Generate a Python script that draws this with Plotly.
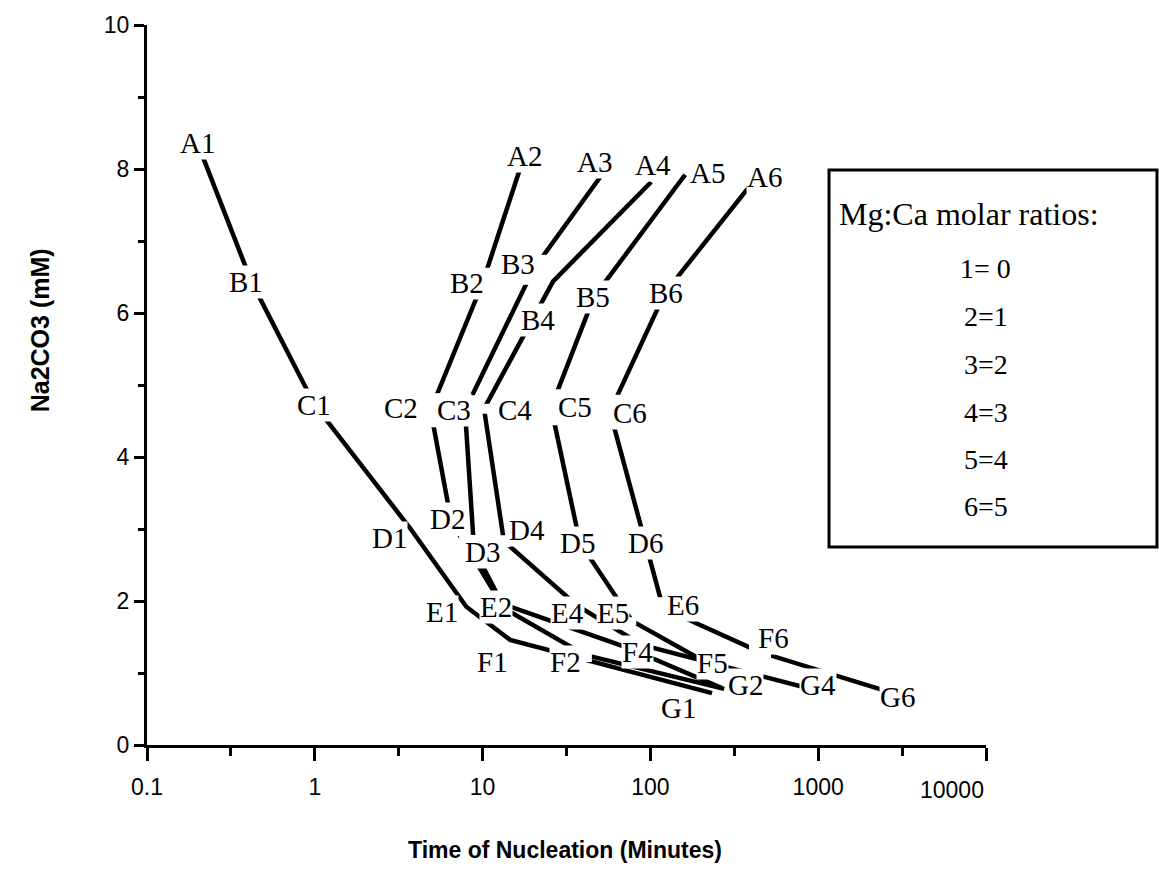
import math
import plotly.graph_objects as go

# Nucleation time (minutes) and Na2CO3 concentration (mM) for each Mg:Ca series
labels_1 = ["A1", "B1", "C1", "D1", "E1", "F1", "G1"]
time_1 = [0.2, 0.42, 1.0, 3.7, 8.0, 14.6, 233]
na2co3_1 = [8.36, 6.43, 4.72, 3.01, 1.92, 1.46, 0.72]

labels_2 = ["A2", "B2", "C2", "D2", "E2", "F2", "G2"]
time_2 = [17.7, 10.0, 4.9, 6.5, 13.4, 40.7, 275]
na2co3_2 = [8.18, 6.42, 4.65, 3.11, 1.90, 1.25, 0.78]

labels_3 = ["A3", "B3", "C3", "D3", "", "", ""]
time_3 = [54, 20, 7.85, 8.9, 13.1, 73.5, 267]
na2co3_3 = [7.99, 6.60, 4.65, 2.71, 1.96, 1.35, 0.79]

labels_4 = ["A4", "B4", "C4", "D4", "E4", "F4", "G4"]
time_4 = [101, 26.3, 10.2, 13.4, 36.5, 89, 970]
na2co3_4 = [7.82, 6.44, 4.67, 2.83, 1.94, 1.39, 0.76]

labels_5 = ["A5", "B5", "C5", "D5", "E5", "F5"]
time_5 = [161, 46, 25.6, 38, 78, 206]
na2co3_5 = [7.92, 6.22, 4.69, 2.81, 1.72, 1.17]

labels_6 = ["A6", "B6", "C6", "D6", "E6", "F6", "G6"]
time_6 = [432, 122, 57.4, 93, 119, 450, 2790]
na2co3_6 = [7.89, 6.28, 4.63, 2.81, 1.90, 1.29, 0.72]

legend_title = "Mg:Ca molar ratios:"
legend_entries = ["1= 0", "2=1", "3=2", "4=3", "5=4", "6=5"]

x_tickvals = [0.1, 1, 10, 100, 1000, 10000]
x_ticktext = ["0.1", "1", "10", "100", "1000", ""]
x_minor_vals = [0.316, 3.16, 31.6, 316, 3162]

# label placement relative to its point, in pixels (right, down)
label_offset = {
    "A1": (0, 0), "B1": (-6, 0), "C1": (-1, 0), "D1": (-21, 10),
    "E1": (-24, 5), "F1": (-18, 22), "G1": (-34, 15),
    "A2": (0, 0), "B2": (-16, 0), "C2": (-30, -2), "D2": (-4, -2),
    "E2": (-8, -1), "F2": (-19, 7), "G2": (21, -4),
    "A3": (-11, -8), "B3": (-15, -6), "C3": (-11, 0), "D3": (8, 2),
    "A4": (2, -17), "B4": (-15, 39), "C4": (31, 1), "D4": (23, -11),
    "E4": (-9, 8), "F4": (-4, 7), "G4": (2, -5),
    "A5": (22, -2), "B5": (-1, 0), "C5": (24, 0), "D5": (-2, 0),
    "E5": (-19, -8), "F5": (9, 2),
    "A6": (7, 0), "B6": (1, 0), "C6": (20, 1), "D6": (0, 0),
    "E6": (20, -3), "F6": (13, -14), "G6": (5, 4),
}

# size of the blank gap left in the line around each point, in pixels
gap_size = {
    "B1": 30, "C1": 30,
    "B2": 30, "C2": 34, "D2": 30, "F2": 14,
    "B3": 30, "C3": 30, "D3": 30,
    "C4": 10, "D4": 12,
    "B5": 30, "C5": 36, "D5": 30, "E5": 8,
    "B6": 30, "C6": 34, "D6": 30, "E6": 22, "F6": 22,
}

series = [
    (labels_1, time_1, na2co3_1),
    (labels_2, time_2, na2co3_2),
    (labels_3, time_3, na2co3_3),
    (labels_4, time_4, na2co3_4),
    (labels_5, time_5, na2co3_5),
    (labels_6, time_6, na2co3_6),
]

SERIF = "Liberation Serif, Times New Roman, serif"
SANS = "Liberation Sans, Arial, Helvetica, sans-serif"

fig = go.Figure()

for labels, t, c in series:
    fig.add_trace(go.Scatter(
        x=t, y=c, mode="lines",
        line=dict(color="black", width=4.5),
        showlegend=False, hoverinfo="skip",
    ))

# white squares that open a small gap in the lines at each point
gx, gy, gs = [], [], []
for labels, t, c in series:
    for name, tx, cy in zip(labels, t, c):
        if gap_size.get(name, 0) > 0:
            gx.append(tx)
            gy.append(cy)
            gs.append(gap_size[name])
fig.add_trace(go.Scatter(
    x=gx, y=gy, mode="markers", opacity=1,
    marker=dict(symbol="square", size=gs, color="#ffffff", opacity=1,
                line=dict(width=0, color="#ffffff")),
    showlegend=False, hoverinfo="skip",
))

annotations = []
# point labels with white backing so they break the lines behind them
for labels, t, c in series:
    for name, tx, cy in zip(labels, t, c):
        if not name:
            continue
        dx, dy = label_offset.get(name, (0, 0))
        annotations.append(dict(
            x=math.log10(tx), y=cy, xref="x", yref="y",
            xanchor="center", yanchor="middle",
            text=name, showarrow=False,
            xshift=dx, yshift=-dy,
            font=dict(family=SERIF, size=29, color="black"),
            bgcolor="white", borderpad=0,
        ))

# legend box contents
annotations.append(dict(
    x=0.9795, y=0.7375, xref="paper", yref="paper",
    xanchor="center", yanchor="middle",
    text=legend_title, showarrow=False,
    font=dict(family=SERIF, size=32, color="black"),
))
entry_y = [0.6625, 0.5958, 0.5278, 0.4625, 0.3972, 0.3319]
for txt, yy in zip(legend_entries, entry_y):
    annotations.append(dict(
        x=0.9995, y=yy, xref="paper", yref="paper",
        xanchor="center", yanchor="middle",
        text=txt, showarrow=False,
        font=dict(family=SERIF, size=28, color="black"),
    ))

# axis titles
annotations.append(dict(
    x=0.498, y=-0.146, xref="paper", yref="paper",
    xanchor="center", yanchor="middle",
    text="<b>Time of Nucleation (Minutes)</b>", showarrow=False,
    font=dict(family=SANS, size=23, color="black"),
))
annotations.append(dict(
    x=-0.1275, y=0.576, xref="paper", yref="paper",
    xanchor="center", yanchor="middle",
    text="<b>Na2CO3 (mM)</b>", showarrow=False, textangle=-90,
    font=dict(family=SANS, size=25, color="black"),
))
# last decade label sits left of its tick
annotations.append(dict(
    x=math.log10(x_tickvals[-1]), y=-0.0625, xref="x", yref="paper",
    text="10000", showarrow=False, xanchor="right", yanchor="middle",
    font=dict(family=SANS, size=23, color="black"),
))

fig.update_layout(
    width=1159, height=895, autosize=False,
    margin=dict(l=147, r=173, t=25, b=150),
    paper_bgcolor="white", plot_bgcolor="white",
    annotations=annotations,
    shapes=[dict(
        type="rect", xref="paper", yref="paper",
        x0=0.8129, x1=1.2038, y0=0.275, y1=0.7986,
        line=dict(color="black", width=3), fillcolor="rgba(0,0,0,0)",
    )],
)

fig.update_xaxes(
    type="log", range=[-1, 4],
    tickmode="array", tickvals=x_tickvals, ticktext=x_ticktext,
    ticks="outside", ticklen=13, tickwidth=3, tickcolor="black",
    ticklabelstandoff=6,
    minor=dict(tickmode="array", tickvals=x_minor_vals, ticks="outside",
               ticklen=8, tickwidth=3, tickcolor="black", showgrid=False),
    showline=True, linewidth=3, linecolor="black",
    showgrid=False, zeroline=False,
    tickfont=dict(family=SANS, size=23, color="black"),
)
fig.update_yaxes(
    range=[0, 10], tick0=0, dtick=2,
    ticks="outside", ticklen=10, tickwidth=3, tickcolor="black",
    minor=dict(dtick=1, ticks="outside", ticklen=6, tickwidth=3,
               tickcolor="black", showgrid=False),
    showline=True, linewidth=3, linecolor="black",
    showgrid=False, zeroline=False,
    tickfont=dict(family=SANS, size=23, color="black"),
)

fig.write_html("out.html")
